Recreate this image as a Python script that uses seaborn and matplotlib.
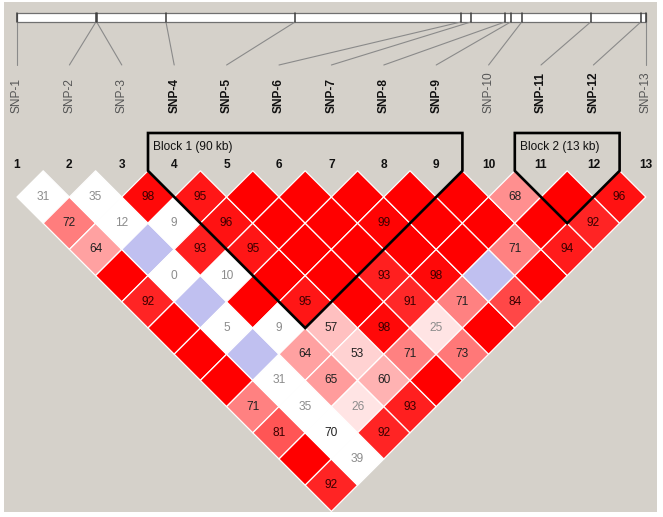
import numpy as np
import pandas as pd
import seaborn as sns
import matplotlib
matplotlib.use("Agg")
import matplotlib.pyplot as plt
from matplotlib.patches import Rectangle, Polygon
from matplotlib.collections import PolyCollection

# ---------------- data ----------------
snp_labels = ["SNP-1", "SNP-2", "SNP-3", "SNP-4", "SNP-5", "SNP-6", "SNP-7",
              "SNP-8", "SNP-9", "SNP-10", "SNP-11", "SNP-12", "SNP-13"]
positions_kb = [0.0, 20.6, 20.8, 38.9, 72.6, 115.9, 118.5, 127.4, 128.9,
                131.8, 149.8, 162.9, 164.2]
block_starts = [4, 11]
block_ends = [9, 12]
block_labels = ["Block 1 (90 kb)", "Block 2 (13 kb)"]

# D' (x100) for pair (i, j), listed per first SNP i, for j = i+1 .. 13
dprime_rows = {
    1: [31, 72, 64, 100, 92, 100, 100, 100, 71, 81, 100, 92],
    2: [35, 12, 100, 0, 100, 5, 100, 31, 35, 70, 39],
    3: [98, 9, 93, 10, 100, 9, 64, 65, 26, 92],
    4: [95, 96, 95, 100, 95, 57, 53, 60, 93],
    5: [100, 100, 100, 100, 100, 98, 71, 100],
    6: [100, 100, 100, 93, 91, 25, 73],
    7: [100, 99, 100, 98, 71, 100],
    8: [100, 100, 100, 100, 84],
    9: [100, 100, 71, 100],
    10: [68, 100, 94],
    11: [100, 92],
    12: [96],
}
# LOD class: S = LOD>=2, W = LOD<2, B = LOD<2 with D'=1, K = LOD<2 (dark label)
lod_rows = {
    1: "WSSSSSSSSSSS",
    2: "WWBWBWBWWKW",
    3: "SWSWSWSSSS",
    4: "SSSSSSSSS",
    5: "SSSSSSSS",
    6: "SSSSSSS",
    7: "SSSSSS",
    8: "SSSBS",
    9: "SSSS",
    10: "SSS",
    11: "SS",
    12: "S",
}

# ---------------- build table ----------------
recs = []
for i, vals in dprime_rows.items():
    for k, v in enumerate(vals):
        j = i + 1 + k
        recs.append(dict(i=i, j=j, dp=v, cls=lod_rows[i][k]))
df = pd.DataFrame(recs)
df["cx"] = (df.i + df.j) / 2.0
df["cy"] = (df.j - df.i).astype(float)

n = len(snp_labels)

# ---------------- style ----------------
sns.set_theme(style="white")
plt.rcParams["font.family"] = ["Liberation Sans", "DejaVu Sans"]

W, H = 663, 517
fig = plt.figure(figsize=(W / 100, H / 100), dpi=100, facecolor="white")
ax = fig.add_axes([0, 0, 1, 1])
ax.set_axis_off()

# pixel layout -> axis units (x: SNP index, y: pair distance)
px_step = 52.4
x0_px = 17.0
y1_px = 197.0
py_step = 26.2
ax.set_xlim(1 - x0_px / px_step, 1 + (W - x0_px) / px_step)
ax.set_ylim(1 + (H - y1_px) / py_step, 1 - y1_px / py_step)


def yu(p):
    return 1 + (p - y1_px) / py_step


def kb_to_x(kb):
    span = positions_kb[-1] - positions_kb[0]
    return 1 + (kb - positions_kb[0]) / span * (n - 1)


# background panel
ax.add_patch(Rectangle((4 / W, 1 - 512 / H), (657 - 4) / W, (512 - 2) / H,
                       transform=ax.transAxes, facecolor="#d5d1ca",
                       edgecolor="none", zorder=0))

# ---------------- cells ----------------
def cell_color(dp, cls):
    if cls == "B":
        return (192 / 255, 192 / 255, 240 / 255)
    if cls in "WK":
        return (1, 1, 1)
    gb = min(228.0, 446.0 * (1 - dp / 100.0)) / 255.0
    return (1, gb, gb)


polys, colors = [], []
for r in df.itertuples():
    polys.append([(r.cx, r.cy - 1), (r.cx + 0.5, r.cy), (r.cx, r.cy + 1),
                  (r.cx - 0.5, r.cy)])
    colors.append(cell_color(r.dp, r.cls))
ax.add_collection(PolyCollection(polys, facecolors=colors, edgecolors="white",
                                 linewidths=0.9, zorder=2))

for r in df.itertuples():
    if r.dp >= 100:
        continue
    c = cell_color(r.dp, r.cls)
    if r.cls == "W" or (r.cls == "S" and c[1] > 0.85):
        tc = "#8c8c8c"
    elif r.cls == "S" and c[1] < 0.35:
        tc = "#3a0000"
    else:
        tc = "#222222"
    ax.text(r.cx, r.cy, f"{r.dp:d}", ha="center", va="center",
            fontsize=8.6, color=tc, zorder=4)

# ---------------- block outlines ----------------
in_block = set()
for s, e, lab in zip(block_starts, block_ends, block_labels):
    in_block.update(range(s, e + 1))
    top = yu(133)
    ytop = 0.0
    pts = [(s - 0.5, top), (s - 0.5, ytop), ((s + e) / 2.0, e - s + 1.0),
           (e + 0.5, ytop), (e + 0.5, top)]
    ax.add_patch(Polygon(pts, closed=True, fill=False, edgecolor="black",
                         linewidth=1.9, joinstyle="miter", zorder=5))
    ax.text(s - 0.5 + 5 / px_step, yu(147), lab, ha="left", va="center",
            fontsize=8.6, color="#111111", zorder=6)

# ---------------- physical map ----------------
bar_l, bar_r = kb_to_x(positions_kb[0]), kb_to_x(positions_kb[-1])
ax.add_patch(Rectangle((bar_l, yu(22)), bar_r - bar_l, yu(13) - yu(22),
                       facecolor="white", edgecolor="#707070", linewidth=0.9,
                       zorder=3))
for k, kb in enumerate(positions_kb):
    xp = kb_to_x(kb)
    ax.plot([xp, xp], [yu(13), yu(22)], color="#3c3c3c", lw=1.1, zorder=4)
    ax.plot([xp, k + 1], [yu(22), yu(65)], color="#8a8a8a", lw=0.8, zorder=3)

for k, lab in enumerate(snp_labels):
    idx = k + 1
    bold = idx in in_block
    ax.text(idx, yu(113), lab, rotation=90, ha="center", va="bottom",
            fontsize=8.6, fontweight="bold" if bold else "normal",
            color="#111111" if bold else "#555555", zorder=4)
    ax.text(idx, yu(165), str(idx), ha="center", va="center", fontsize=8.6,
            fontweight="bold", color="#111111", zorder=4)

fig.savefig("out.png", dpi=100, facecolor="white")
